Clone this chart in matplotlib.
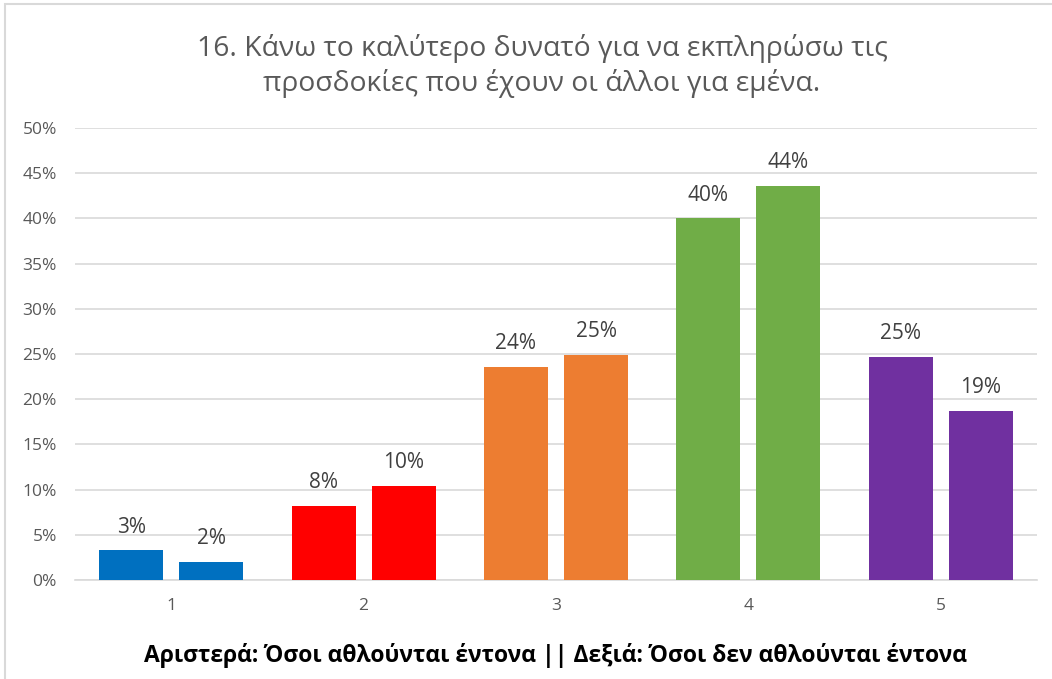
import matplotlib
matplotlib.use("Agg")
import matplotlib.pyplot as plt
from matplotlib.patches import Rectangle
import numpy as np

categories = ["1", "2", "3", "4", "5"]
left_values = [3.3, 8.2, 23.6, 40.0, 24.7]    # athletes who train intensively
right_values = [2.0, 10.4, 24.9, 43.6, 18.7]  # athletes who do not
colors = ["#0070C0", "#FF0000", "#ED7D31", "#70AD47", "#7030A0"]
yticks = [0, 5, 10, 15, 20, 25, 30, 35, 40, 45, 50]

title = "16. Κάνω το καλύτερο δυνατό για να εκπληρώσω τις\nπροσδοκίες που έχουν οι άλλοι για εμένα."
xlabel = "Αριστερά: Όσοι αθλούνται έντονα || Δεξιά: Όσοι δεν αθλούνται έντονα"

plt.rcParams["font.family"] = ["Open Sans", "DejaVu Sans"]

fig = plt.figure(figsize=(10.52, 6.79), dpi=100)
W, H = 1052, 679
ax = fig.add_axes([75 / W, 1 - 580 / H, 962 / W, (580 - 128) / H])

x = np.arange(1, len(categories) + 1)
bw = 0.333
off = 0.208
for xi, lv, rv, c in zip(x, left_values, right_values, colors):
    for pos, v in ((xi - off, lv), (xi + off, rv)):
        ax.bar(pos, v, width=bw, color=c, zorder=3)
        ax.text(pos, v + 1.4, f"{v:.0f}%", ha="center", va="bottom",
                fontsize=15, color="#404040", zorder=4)

ax.set_xlim(0.5, 5.5)
ax.set_ylim(0, 50)
ax.set_yticks(yticks)
ax.set_yticklabels([f"{t}%" for t in yticks])
ax.set_xticks(x)
ax.set_xticklabels(categories)
ax.tick_params(axis="both", length=0, colors="#595959", labelsize=12.5)
ax.tick_params(axis="y", pad=13)
ax.tick_params(axis="x", pad=13)
ax.grid(axis="y", color="#D9D9D9", linewidth=1.2, zorder=0)
for s in ("top", "right", "left"):
    ax.spines[s].set_visible(False)
ax.spines["bottom"].set_color("#D9D9D9")
ax.spines["bottom"].set_linewidth(1.2)

fig.text(542 / W, 1 - 66 / H, title, ha="center", va="center", fontsize=20.3,
         color="#595959", linespacing=1.3)
fig.text(555 / W, 1 - 655 / H, xlabel, ha="center", va="center", fontsize=16.5,
         fontweight="bold", color="black")

fig.patches.append(Rectangle((5 / W, -0.1), 1.2, 1 - 4 / H + 0.1,
                             transform=fig.transFigure, fill=False,
                             edgecolor="#D9D9D9", linewidth=1.5))

fig.savefig("out.png", dpi=100, facecolor="white")
